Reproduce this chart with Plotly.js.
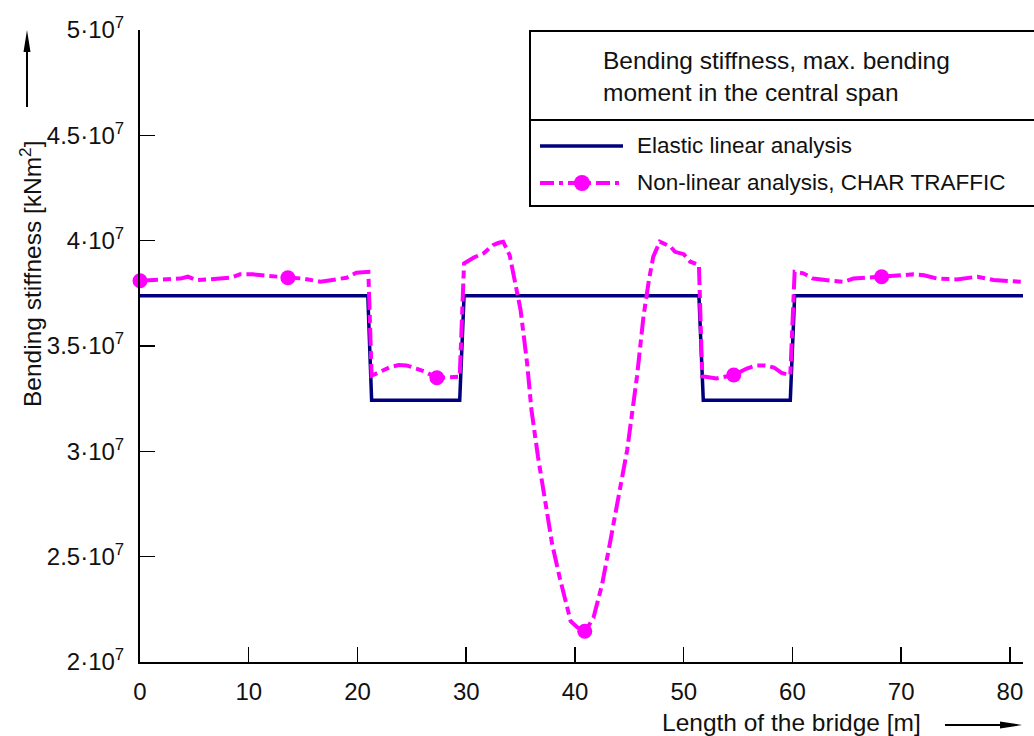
<!DOCTYPE html>
<html>
<head>
<meta charset="utf-8">
<script src="https://cdn.plot.ly/plotly-3.0.1.min.js"></script>
<style>html,body{margin:0;padding:0;background:#fff;}#chart{width:1034px;height:736px;}</style>
</head>
<body>
<div id="chart"></div>
<script>
// ---- data ----
const elasticX = [0, 20.95, 21.3, 29.4, 29.8, 51.4, 51.8, 59.8, 60.2, 81.2];
const elasticY = [3.738e7, 3.738e7, 3.243e7, 3.243e7, 3.738e7, 3.738e7, 3.243e7, 3.243e7, 3.738e7, 3.738e7];

const nonlinX = [0, 1.2, 2.5, 3.7, 4.4, 5.2, 6.3, 7.4, 8.3, 9.2, 10.4, 11.7, 13.6, 15.0, 16.6, 17.5, 19.0, 19.9, 21.0,
  21.3, 22.1, 23.0, 23.8, 24.5, 25.4, 26.2, 27.3, 28.5, 29.4,
  29.8, 30.7, 31.6, 32.5, 33.0, 33.4, 34.0, 34.5, 35.0, 35.6, 36.0, 36.6, 37.4, 37.9, 38.6, 39.6, 40.2, 40.9,
  41.7, 42.5, 43.2, 43.9, 44.8, 45.7, 46.3, 46.8, 47.2, 47.8, 48.8, 49.2, 50.0, 50.6, 51.4,
  51.7, 53.0, 54.6, 55.8, 56.7, 57.5, 58.3, 59.0, 59.8,
  60.2, 61.0, 61.9, 63.5, 64.7, 65.6, 68.2, 71.1, 72.1, 73.3, 75.1, 77.0, 78.5, 81.0];
const nonlinY = [3.81e7, 3.813e7, 3.816e7, 3.82e7, 3.829e7, 3.813e7, 3.816e7, 3.82e7, 3.824e7, 3.84e7, 3.84e7, 3.833e7, 3.824e7, 3.82e7, 3.805e7, 3.813e7, 3.824e7, 3.848e7, 3.852e7,
  3.359e7, 3.378e7, 3.40e7, 3.41e7, 3.408e7, 3.393e7, 3.378e7, 3.349e7, 3.35e7, 3.354e7,
  3.892e7, 3.92e7, 3.94e7, 3.98e7, 3.99e7, 3.995e7, 3.93e7, 3.81e7, 3.67e7, 3.417e7, 3.196e7, 2.974e7, 2.72e7, 2.56e7, 2.40e7, 2.194e7, 2.165e7, 2.142e7,
  2.21e7, 2.37e7, 2.56e7, 2.75e7, 3.006e7, 3.354e7, 3.64e7, 3.813e7, 3.924e7, 3.995e7, 3.971e7, 3.947e7, 3.936e7, 3.90e7, 3.884e7,
  3.356e7, 3.346e7, 3.362e7, 3.393e7, 3.408e7, 3.408e7, 3.398e7, 3.372e7, 3.362e7,
  3.852e7, 3.845e7, 3.82e7, 3.81e7, 3.805e7, 3.82e7, 3.829e7, 3.84e7, 3.836e7, 3.82e7, 3.816e7, 3.829e7, 3.813e7, 3.805e7];

const markerX = [0, 13.6, 27.3, 40.9, 54.6, 68.2];
const markerY = [3.81e7, 3.824e7, 3.349e7, 2.146e7, 3.362e7, 3.829e7];

const xTickVals = [0, 10, 20, 30, 40, 50, 60, 70, 80];
const yTickVals = [2e7, 2.5e7, 3e7, 3.5e7, 4e7, 4.5e7, 5e7];
const yTickText = ['2·10<sup>7</sup>', '2.5·10<sup>7</sup>', '3·10<sup>7</sup>', '3.5·10<sup>7</sup>', '4·10<sup>7</sup>', '4.5·10<sup>7</sup>', '5·10<sup>7</sup>'];

const legendTitle = 'Bending stiffness, max. bending<br>moment in the central span';
const seriesNames = ['Elastic linear analysis', 'Non-linear analysis, CHAR TRAFFIC'];
const xTitle = 'Length of the bridge [m]';
const yTitle = 'Bending stiffness [kNm<sup>2</sup>]';

// ---- styling ----
const NAVY = '#00007f';
const MAG = '#ff00ff';
const DASH = '18px,5px,8px,5px';
const FONT = 'Liberation Sans, Arial, Helvetica, sans-serif';

const M = {l: 140, r: 11, t: 30, b: 74};
const PW = 1034 - M.l - M.r, PH = 736 - M.t - M.b;
const px = p => (p - M.l) / PW;
const py = p => (736 - M.b - p) / PH;

const traces = [
  {x: elasticX, y: elasticY, mode: 'lines', line: {color: NAVY, width: 3.5}, showlegend: false, name: seriesNames[0]},
  {x: nonlinX, y: nonlinY, mode: 'lines', line: {color: MAG, width: 4, dash: DASH}, showlegend: false, name: seriesNames[1]},
  {x: markerX, y: markerY, mode: 'markers', marker: {color: MAG, size: 15}, cliponaxis: false, showlegend: false, name: seriesNames[1]}
];

const shapes = [
  // legend box
  {type: 'rect', xref: 'paper', yref: 'paper', x0: px(530), x1: px(1050), y0: py(31), y1: py(206), line: {color: '#000', width: 2}},
  {type: 'line', xref: 'paper', yref: 'paper', x0: px(530), x1: px(1050), y0: py(120), y1: py(120), line: {color: '#000', width: 2}},
  // legend samples
  {type: 'line', xref: 'paper', yref: 'paper', x0: px(540), x1: px(623), y0: py(146), y1: py(146), line: {color: NAVY, width: 3.5}},
  {type: 'line', xref: 'paper', yref: 'paper', x0: px(540), x1: px(623), y0: py(183), y1: py(183), line: {color: MAG, width: 4, dash: '14px,5px,4px,5px'}},
  {type: 'circle', xref: 'paper', yref: 'paper', x0: px(574), x1: px(590), y0: py(175), y1: py(191), fillcolor: MAG, line: {color: MAG, width: 0}},
  // x arrow
  {type: 'line', xref: 'paper', yref: 'paper', x0: px(945), x1: px(1004), y0: py(725), y1: py(725), line: {color: '#000', width: 2}},
  {type: 'path', xref: 'paper', yref: 'paper', path: `M ${px(1022)} ${py(725)} L ${px(1000)} ${py(721.5)} L ${px(1000)} ${py(728.5)} Z`, fillcolor: '#000', line: {color: '#000', width: 0}},
  // y arrow
  {type: 'line', xref: 'paper', yref: 'paper', x0: px(27), x1: px(27), y0: py(107), y1: py(48), line: {color: '#000', width: 2}},
  {type: 'path', xref: 'paper', yref: 'paper', path: `M ${px(27)} ${py(30)} L ${px(23.5)} ${py(52)} L ${px(30.5)} ${py(52)} Z`, fillcolor: '#000', line: {color: '#000', width: 0}}
];

const annotations = [
  {xref: 'paper', yref: 'paper', x: px(601), y: py(76), xanchor: 'left', yanchor: 'middle', align: 'left', showarrow: false, text: legendTitle, font: {size: 24.5, color: '#111', family: FONT}},
  {xref: 'paper', yref: 'paper', x: px(635), y: py(145), xanchor: 'left', yanchor: 'middle', showarrow: false, text: seriesNames[0], font: {size: 22.5, color: '#111', family: FONT}},
  {xref: 'paper', yref: 'paper', x: px(635), y: py(183), xanchor: 'left', yanchor: 'middle', showarrow: false, text: seriesNames[1], font: {size: 22.5, color: '#111', family: FONT}},
  {xref: 'paper', yref: 'paper', x: px(791), y: py(722), xanchor: 'center', yanchor: 'middle', showarrow: false, text: xTitle, font: {size: 24.5, color: '#111', family: FONT}},
  {xref: 'paper', yref: 'paper', x: px(30), y: py(274), xanchor: 'center', yanchor: 'middle', textangle: -90, showarrow: false, text: yTitle, font: {size: 24.5, color: '#111', family: FONT}}
];

const layout = {
  width: 1034, height: 736,
  margin: M,
  paper_bgcolor: '#fff', plot_bgcolor: '#fff',
  font: {family: FONT, size: 24, color: '#111'},
  showlegend: false,
  xaxis: {
    range: [0, 81.2], tickmode: 'array', tickvals: xTickVals, ticks: 'inside', ticklen: 15, tickwidth: 1.5, tickcolor: '#000',
    showline: true, linecolor: '#000', linewidth: 2, showgrid: false, zeroline: false, ticklabelstandoff: 7,
    tickfont: {size: 24, family: FONT, color: '#111'}
  },
  yaxis: {
    range: [2e7, 5e7], tickmode: 'array', tickvals: yTickVals, ticktext: yTickText, ticks: 'inside', ticklen: 15, tickwidth: 1.5, tickcolor: '#000',
    showline: true, linecolor: '#000', linewidth: 2, showgrid: false, zeroline: false, ticklabelstandoff: 9,
    tickfont: {size: 24, family: FONT, color: '#111'}
  },
  shapes: shapes,
  annotations: annotations
};

Plotly.newPlot('chart', traces, layout, {displayModeBar: false, staticPlot: true});
</script>
</body>
</html>
